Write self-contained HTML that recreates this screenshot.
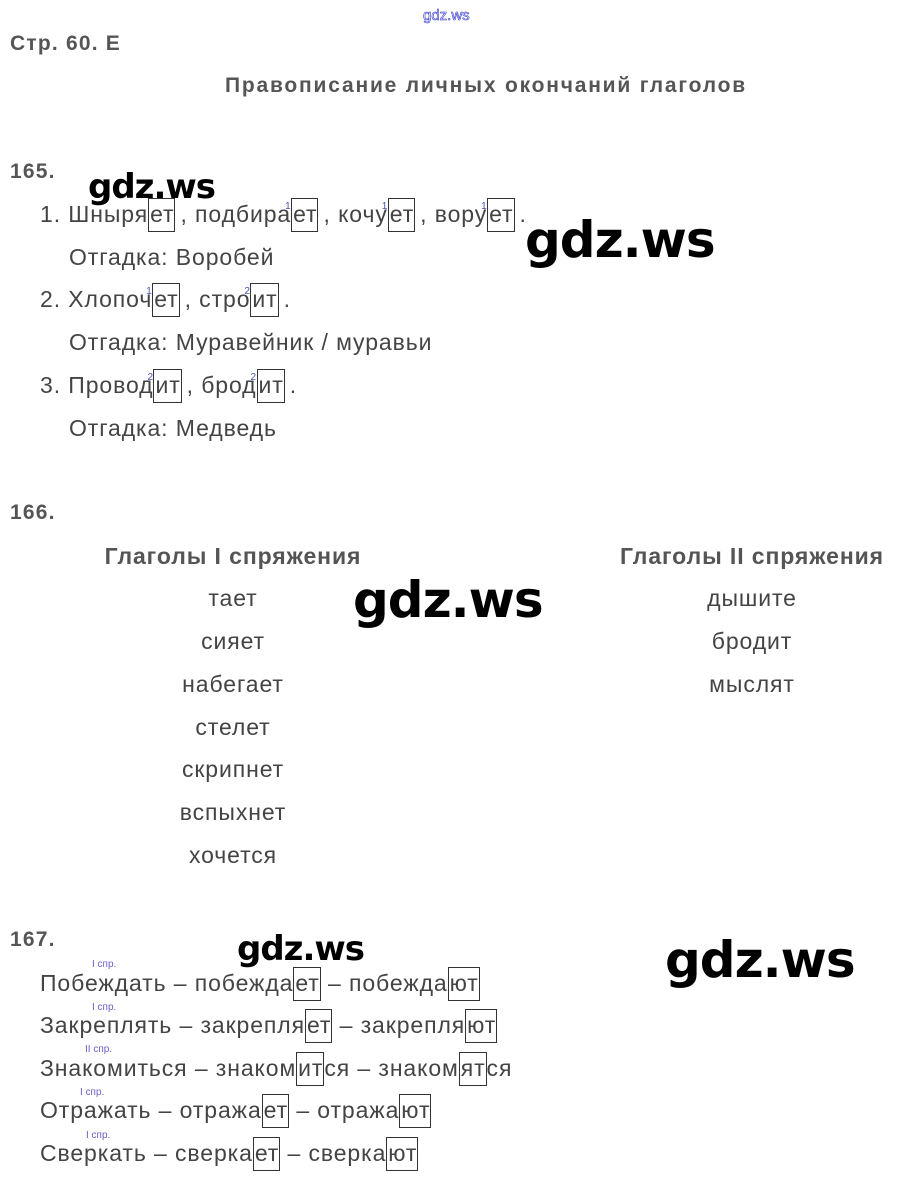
<!DOCTYPE html>
<html><head><meta charset="utf-8"><style>
body{margin:0;width:900px;height:1182px;background:#fff;position:relative;overflow:hidden;font-family:"Liberation Sans","DejaVu Sans",sans-serif;color:#444}
.a{position:absolute;white-space:nowrap;line-height:24px;font-size:23px;letter-spacing:0.9px}
.h{font-weight:bold;font-size:21px;color:#555;letter-spacing:1.2px}
.b{display:inline-block;border:1.6px solid #333;padding:4px 0 5px 1px;line-height:23px;margin:-5px 0}
.p{margin-left:5px}
.s{position:relative;display:inline-block;width:0}
.s i{position:absolute;font-style:normal;font-size:10px;color:#4656b8;left:-6px;top:-20px;line-height:10px;letter-spacing:0}
.l{position:absolute;font-size:10px;color:#6a5fc8;line-height:10px}
.c{position:absolute;text-align:center;width:320px;white-space:nowrap;line-height:24px;font-size:23px;letter-spacing:0.9px}
.w{position:absolute;font-weight:bold;color:#000;white-space:nowrap;line-height:1;font-family:"DejaVu Sans","Liberation Sans",sans-serif;letter-spacing:-1px}
</style></head><body>
<div class="a" style="left:423px;top:4px;font-size:15px;color:#fff;-webkit-text-stroke:0.6px #33c;letter-spacing:0">gdz.ws</div>
<div class="a h" style="left:10px;top:32px">Стр. 60. Е</div>
<div class="a h" style="left:225px;top:74px;letter-spacing:1.8px">Правописание личных окончаний глаголов</div>

<div class="a h" style="left:10px;top:160px">165.</div>
<div class="a" style="left:40px;top:202px">1. Шныря<span class="b">ет</span><span class="p">,</span> подбира<span class="s"><i>1</i></span><span class="b">ет</span><span class="p">,</span> кочу<span class="s"><i>1</i></span><span class="b">ет</span><span class="p">,</span> вору<span class="s"><i>1</i></span><span class="b">ет</span><span class="p">.</span></div>
<div class="a" style="left:69px;top:245px">Отгадка: Воробей</div>
<div class="a" style="left:40px;top:287px">2. Хлопоч<span class="s"><i>1</i></span><span class="b">ет</span><span class="p">,</span> стро<span class="s"><i>2</i></span><span class="b">ит</span><span class="p">.</span></div>
<div class="a" style="left:69px;top:330px">Отгадка: Муравейник / муравьи</div>
<div class="a" style="left:40px;top:373px">3. Провод<span class="s"><i>2</i></span><span class="b">ит</span><span class="p">,</span> брод<span class="s"><i>2</i></span><span class="b">ит</span><span class="p">.</span></div>
<div class="a" style="left:69px;top:416px">Отгадка: Медведь</div>

<div class="a h" style="left:10px;top:501px">166.</div>
<div class="c h" style="left:73px;top:544px">Глаголы I спряжения</div>
<div class="c h" style="left:592px;top:544px">Глаголы II спряжения</div>
<div class="c" style="left:73px;top:586px">тает</div>
<div class="c" style="left:73px;top:629px">сияет</div>
<div class="c" style="left:73px;top:672px">набегает</div>
<div class="c" style="left:73px;top:715px">стелет</div>
<div class="c" style="left:73px;top:757px">скрипнет</div>
<div class="c" style="left:73px;top:800px">вспыхнет</div>
<div class="c" style="left:73px;top:843px">хочется</div>
<div class="c" style="left:592px;top:586px">дышите</div>
<div class="c" style="left:592px;top:629px">бродит</div>
<div class="c" style="left:592px;top:672px">мыслят</div>

<div class="a h" style="left:10px;top:928px">167.</div>
<div class="l" style="left:92px;top:960px">I спр.</div>
<div class="a" style="left:40px;top:971px">Побеждать – побежда<span class="b">ет</span> – побежда<span class="b">ют</span></div>
<div class="l" style="left:92px;top:1003px">I спр.</div>
<div class="a" style="left:40px;top:1013px">Закреплять – закрепля<span class="b">ет</span> – закрепля<span class="b">ют</span></div>
<div class="l" style="left:85px;top:1045px">II спр.</div>
<div class="a" style="left:40px;top:1056px">Знакомиться – знаком<span class="b">ит</span>ся – знаком<span class="b">ят</span>ся</div>
<div class="l" style="left:80px;top:1088px">I спр.</div>
<div class="a" style="left:40px;top:1098px">Отражать – отража<span class="b">ет</span> – отража<span class="b">ют</span></div>
<div class="l" style="left:86px;top:1131px">I спр.</div>
<div class="a" style="left:40px;top:1141px">Сверкать – сверка<span class="b">ет</span> – сверка<span class="b">ют</span></div>

<div class="w" style="left:88px;top:170px;font-size:34px">gdz.ws</div>
<div class="w" style="left:525px;top:215px;font-size:50px">gdz.ws</div>
<div class="w" style="left:353px;top:575px;font-size:50px">gdz.ws</div>
<div class="w" style="left:237px;top:932px;font-size:34px">gdz.ws</div>
<div class="w" style="left:665px;top:935px;font-size:50px">gdz.ws</div>
</body></html>
